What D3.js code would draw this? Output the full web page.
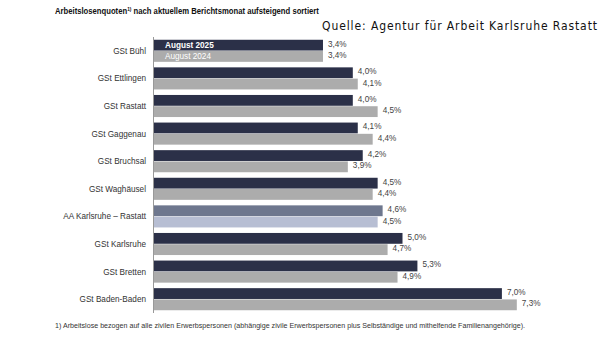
<!DOCTYPE html>
<html><head><meta charset="utf-8">
<script src="https://cdn.jsdelivr.net/npm/d3@7"></script>
<style>body{margin:0;background:#fff}svg{display:block}</style>
</head><body>
<svg id="c" width="608" height="342"></svg>
<script>
const categories = ["GSt Bühl","GSt Ettlingen","GSt Rastatt","GSt Gaggenau","GSt Bruchsal","GSt Waghäusel","AA Karlsruhe – Rastatt","GSt Karlsruhe","GSt Bretten","GSt Baden-Baden"];
const aug2025 = [3.4,4.0,4.0,4.1,4.2,4.5,4.6,5.0,5.3,7.0];
const aug2024 = [3.4,4.1,4.5,4.4,3.9,4.4,4.5,4.7,4.9,7.3];
const seriesNames = ["August 2025","August 2024"];
const highlight = "AA Karlsruhe – Rastatt";

const svg = d3.select("#c");
const font = "'Liberation Sans', Arial, sans-serif";
const x = d3.scaleLinear().domain([0, 8]).range([154, 154 + 8*49.7]);
const y = d3.scaleBand().domain(categories).range([37, 313]).paddingInner(0.2).paddingOuter(0.1);
const ys = d3.scaleBand().domain(seriesNames).range([0, y.bandwidth()]).paddingInner(0.04);

const colors = {"August 2025":"#2b3048","August 2024":"#acacac"};
const hiColors = {"August 2025":"#6e778e","August 2024":"#b7bed3"};

// title
const t = svg.append("text").attr("transform","translate(55,14) scale(0.875,1)").attr("font-family",font).attr("font-weight","bold").attr("font-size",8.8).attr("fill","#111");
t.append("tspan").text("Arbeitslosenquoten");
t.append("tspan").attr("font-size",5.5).attr("dy",-3).text("1)");
t.append("tspan").attr("dy",3).text(" nach aktuellem Berichtsmonat aufsteigend sortiert");

svg.append("text").attr("x",322).attr("y",30)
  .attr("font-family","'DejaVu Sans Condensed','DejaVu Sans',sans-serif").attr("font-size",12)
  .attr("textLength",275).attr("lengthAdjust","spacing")
  .attr("fill","#111").text("Quelle: Agentur für Arbeit Karlsruhe Rastatt");

const rows = categories.map((c,i)=>({cat:c, vals:[{s:seriesNames[0],v:aug2025[i]},{s:seriesNames[1],v:aug2024[i]}]}));
const g = svg.selectAll("g.row").data(rows).join("g").attr("transform",d=>`translate(0,${y(d.cat)})`);
g.selectAll("rect").data(d=>d.vals.map(v=>({...v,cat:d.cat}))).join("rect")
  .attr("x",x(0)).attr("y",d=>ys(d.s)).attr("height",ys.bandwidth())
  .attr("width",d=>x(d.v)-x(0))
  .attr("fill",d=>d.cat===highlight?hiColors[d.s]:colors[d.s]);
const fmt = v => d3.format(".1f")(v).replace(".",",") + "%";
g.selectAll("text.val").data(d=>d.vals).join("text").attr("class","val")
  .attr("x",d=>x(d.v)+5).attr("y",d=>ys(d.s)+ys.bandwidth()/2+1.5)
  .attr("font-family",font).attr("font-size",8.2).attr("fill","#444").text(d=>fmt(d.v));

// category labels
svg.selectAll("text.cat").data(categories).join("text").attr("class","cat")
  .attr("x",146).attr("y",d=>y(d)+y.bandwidth()/2+3).attr("text-anchor","end")
  .attr("font-family",font).attr("font-size",8.2).attr("fill","#333").text(d=>d);

// axis line
svg.append("line").attr("x1",153.5).attr("x2",153.5).attr("y1",37).attr("y2",313).attr("stroke","#999").attr("stroke-width",1);

// legend inside first bars
const first = categories[0];
seriesNames.forEach(s=>{
  svg.append("text").attr("x",165).attr("y",y(first)+ys(s)+ys.bandwidth()/2+3)
    .attr("font-family",font).attr("font-size",8.2).attr("font-weight",s===seriesNames[0]?"bold":"normal").attr("fill","#fff").text(s);
});

svg.append("text").attr("x",55).attr("y",328).attr("font-family",font).attr("font-size",7).attr("fill","#333")
  .attr("textLength",470).attr("lengthAdjust","spacingAndGlyphs")
  .text("1) Arbeitslose bezogen auf alle zivilen Erwerbspersonen (abhängige zivile Erwerbspersonen plus Selbständige und mithelfende Familienangehörige).");
</script>
</body></html>
